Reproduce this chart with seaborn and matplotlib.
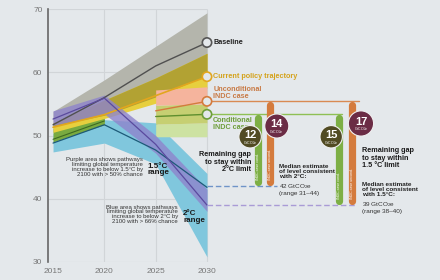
import matplotlib
matplotlib.use('Agg')
import matplotlib.pyplot as plt
from matplotlib import font_manager as fm
import seaborn as sns

# ================= DATOS =================
years = [2015, 2020, 2025, 2030]
hist_years = [2015, 2020]
indc_years = [2025, 2030]

baseline = [51.7, 56.0, 61.0, 64.7]
baseline_lo = [51.5, 53.2, 56.1, 59.5]
baseline_hi = [53.8, 58.8, 64.1, 69.4]

policy = [51.3, 53.3, 56.3, 59.3]
policy_lo = [50.5, 52.7, 55.1, 57.5]
policy_hi = [52.0, 55.6, 59.1, 63.0]

uncond = [53.9, 55.4]
uncond_lo = [54.8, 55.0]
uncond_hi = [57.2, 57.7]

cond = [53.0, 53.35]
cond_lo = [49.8, 49.8]
cond_mid = [51.8, 52.0]
cond_hi = [54.8, 55.0]

hist_lo = [49.0, 51.7]
hist_hi = [51.2, 53.3]
hist_line = [49.4, 52.3]

two_deg = [48.8, 51.7, 47.7, 41.8]
two_lo = [47.4, 48.8, 45.5, 30.8]
two_hi = [50.3, 52.5, 52.0, 44.0]

one5_deg = [52.6, 55.9, 48.6, 39.0]
one5_lo = [51.6, 53.4, 47.2, 38.0]
one5_hi = [53.9, 56.4, 50.0, 41.5]

gaps = [12, 14, 15, 17]
target_2c = 42
target_15c = 39

y_ticks = [30, 40, 50, 60, 70]
x_ticks = [2015, 2020, 2025, 2030]

# ================= ESTILO =================
BG = '#e4e8eb'
GRID = '#d1d5d8'
C_GRAY = '#b4b5ac'
C_OLIVE = '#b2a233'
C_YELLOW = '#e7cf3e'
C_SALMON = '#f5b49d'
C_CONDDK = '#c6cf72'
C_CONDLT = '#cde2a2'
C_HIST = '#79aa40'
C_BLUE = '#80c7dd'
C_PURPLE = '#8e84cc'
C_ORANGE = '#d47b3d'
C_GREEN = '#7daf45'
C_MAROON = '#6b2c45'
C_DKOLIVE = '#514b23'

sns.set_style("white")
avail = {f.name for f in fm.fontManager.ttflist}
FONT = 'Liberation Sans Narrow' if 'Liberation Sans Narrow' in avail else 'Liberation Sans'
SC = 1.15 if FONT == 'Liberation Sans Narrow' else 1.0  # factor de tamaño
plt.rcParams['font.family'] = [FONT, 'DejaVu Sans']
plt.rcParams['mathtext.fontset'] = 'custom'
plt.rcParams['mathtext.rm'] = FONT
plt.rcParams['mathtext.it'] = FONT + ':italic'
plt.rcParams['mathtext.bf'] = FONT + ':bold'

fig = plt.figure(figsize=(4.4, 2.8), dpi=100, facecolor=BG)
ax = fig.add_axes([48 / 440, 18 / 280, 1 - 48 / 440, 253 / 280])
ax.set_facecolor(BG)
ax.set_xlim(2014.51, 2052.7)
ax.set_ylim(30, 70)


def px(x, y):
    # posicion en pixeles -> coordenadas de figura
    return x / 440, 1 - y / 280


# rejilla solo en la zona del grafico
ax.hlines(y_ticks, 2014.51, 2030, color=GRID, lw=0.8, zorder=0)
ax.vlines(x_ticks[1:], 30, 70, color=GRID, lw=0.8, zorder=0)

# --- bandas ---
ax.fill_between(years, two_lo, two_hi, color=C_BLUE, lw=0, zorder=1)
ax.fill_between(hist_years, hist_lo, hist_hi, color=C_HIST, lw=0, zorder=2)
ax.fill_between(years, baseline_lo, baseline_hi, color=C_GRAY, lw=0, zorder=2)
ax.fill_between(years, policy_lo, policy_hi, color=C_YELLOW, lw=0, zorder=3)
ov_lo = [max(a, b) for a, b in zip(baseline_lo, policy_lo)]
ov_hi = [min(a, b) for a, b in zip(baseline_hi, policy_hi)]
ax.fill_between(years, ov_lo, ov_hi, color=C_OLIVE, lw=0, zorder=3)
ax.fill_between(indc_years, cond_lo, cond_mid, color=C_CONDLT, lw=0, zorder=4)
ax.fill_between(indc_years, cond_mid, cond_hi, color=C_CONDDK, lw=0, zorder=4)
ax.fill_between(indc_years, uncond_lo, uncond_hi, color=C_SALMON, lw=0, zorder=4)
ax.fill_between(years, one5_lo, one5_hi, color=C_PURPLE, alpha=0.8, lw=0, zorder=5)

# --- lineas ---
sns.lineplot(x=years, y=baseline, ax=ax, color='#505050', lw=1.0, zorder=6)
sns.lineplot(x=years, y=policy, ax=ax, color='#e2a61e', lw=1.2, zorder=6)
sns.lineplot(x=indc_years, y=uncond, ax=ax, color=C_ORANGE, lw=1.0, zorder=6)
sns.lineplot(x=indc_years, y=cond, ax=ax, color='#5f8f2e', lw=1.0, zorder=6)
sns.lineplot(x=hist_years, y=hist_line, ax=ax, color='#3d6a22', lw=0.8, zorder=6)
sns.lineplot(x=years, y=two_deg, ax=ax, color='#1d5a78', lw=0.9, zorder=6)
sns.lineplot(x=years, y=one5_deg, ax=ax, color='#5a4a9e', lw=0.9, zorder=6)

# lineas horizontales hacia las barras
ax.plot([2030, 2044.8], [uncond[-1]] * 2, color='#d98a52', lw=1.0, zorder=6)
ax.plot([2030, 2043.2], [cond[-1]] * 2, color='#8fc055', lw=1.0, zorder=6)
ax.plot([2030, 2036.8], [target_2c] * 2, color='#6f94c8', lw=1.0, ls=(0, (4, 2)), zorder=6)
ax.plot([2030, 2044.6], [target_15c] * 2, color='#a99bd6', lw=1.0, ls=(0, (4, 2)), zorder=6)

# circulos al final de cada escenario
ends = [baseline[-1], policy[-1], uncond[-1], cond[-1]]
end_cols = ['#555555', '#e2a61e', C_ORANGE, '#6e9e3a']
ax.scatter([2030] * 4, ends, s=45, facecolor=BG, edgecolor=end_cols, lw=1.2, zorder=8)

lab_kw = dict(fontsize=5.2 * SC, fontweight='bold', ha='left', va='center', zorder=9)
ax.text(2030.6, baseline[-1], 'Baseline', color='#222222', **lab_kw)
ax.text(2030.6, policy[-1], 'Current policy trajectory', color='#d4a21a', **lab_kw)
ax.text(2030.6, uncond[-1] + 1.3, 'Unconditional\nINDC case', color='#c87a45',
        linespacing=0.95, **lab_kw)
ax.text(2030.6, cond[-1] - 1.55, 'Conditional\nINDC case', color='#6e9e3a',
        linespacing=0.95, **lab_kw)

# --- barras de brecha ---
bar_x = [2035.0, 2036.1, 2042.9, 2044.1]
bar_top = [cond[-1], uncond[-1], cond[-1], uncond[-1]]
bar_bot = [target_2c, target_2c, target_15c, target_15c]
bar_col = [C_GREEN, C_ORANGE, C_GREEN, C_ORANGE]
bar_txt = ['INDC case cond.', 'INDC case uncond.'] * 2
for x, t, b, c, s in zip(bar_x, bar_top, bar_bot, bar_col, bar_txt):
    ax.plot([x, x], [b + 0.6, t - 0.6], color=c, lw=5.2, solid_capstyle='round', zorder=7)
    ax.text(x, b + 1.0, s, rotation=90, color='white', fontsize=2.6 * SC,
            ha='center', va='bottom', zorder=8)

circ_x = [2034.2, 2036.8, 2042.1, 2045.0]
circ_y = [49.8, 51.5, 49.8, 51.9]
circ_col = [C_DKOLIVE, C_MAROON, C_DKOLIVE, C_MAROON]
circ_s = [260, 300, 260, 330]
ax.scatter(circ_x, circ_y, s=circ_s, c=circ_col, edgecolor='#f0f0f0', lw=0.8, zorder=9)
for x, y, g in zip(circ_x, circ_y, gaps):
    ax.text(x, y + 0.25, str(g), color='white', fontsize=8 * SC, fontweight='bold',
            ha='center', va='center', zorder=10)
    ax.text(x, y - 0.95, r'GtCO$_2$e', color='white', fontsize=2.6 * SC,
            ha='center', va='center', zorder=10)

# --- ejes ---
for s in ['top', 'right', 'bottom']:
    ax.spines[s].set_visible(False)
ax.spines['left'].set_color('#666666')
ax.spines['left'].set_linewidth(1.2)
ax.set_yticks(y_ticks)
ax.set_xticks(x_ticks)
ax.tick_params(axis='y', length=3, width=0.8, color='#666666', pad=1,
               labelsize=6 * SC, labelcolor='#777777')
ax.tick_params(axis='x', length=0, pad=4, labelsize=6 * SC, labelcolor='#777777')

# --- anotaciones ---
small = dict(fontsize=4.3 * SC, color='#333333', linespacing=0.95)
fig.text(*px(143, 157.5), 'Purple area shows pathways\nlimiting global temperature\n'
         'increase to below 1.5°C by\n2100 with > 50% chance', ha='right', va='top', **small)
fig.text(*px(178, 204.5), 'Blue area shows pathways\nlimiting global temperature\n'
         'increase to below 2°C by\n2100 with > 66% chance', ha='right', va='top', **small)
big = dict(fontsize=5.8 * SC, fontweight='bold', color='#1a1a1a', linespacing=0.95,
           va='center')
fig.text(*px(147.5, 169.5), '1.5°C\nrange', ha='left', **big)
fig.text(*px(183, 217), '2°C\nrange', ha='left', **big)

gap_kw = dict(fontsize=5.2 * SC, fontweight='bold', color='#1a1a1a', linespacing=1.05,
              va='top')
fig.text(*px(251, 151.5), 'Remaining gap\nto stay within\n2°C limit', ha='right', **gap_kw)
fig.text(*px(361.5, 147.5), 'Remaining gap\nto stay within\n1.5 °C limit', ha='left', **gap_kw)

med_b = dict(fontsize=4.6 * SC, fontweight='bold', color='#222222', linespacing=0.95,
             ha='left', va='top')
med_r = dict(fontsize=4.6 * SC, color='#333333', linespacing=0.95, ha='left', va='top')
fig.text(*px(279, 164.5), 'Median estimate\nof level consistent\nwith 2°C:', **med_b)
fig.text(*px(279, 182.5), '%d GtCO$_2$e\n(range 31–44)' % target_2c, **med_r)
fig.text(*px(362, 182), 'Median estimate\nof level consistent\nwith 1.5°C:', **med_b)
fig.text(*px(362, 200), '%d GtCO$_2$e\n(range 38–40)' % target_15c, **med_r)

fig.savefig('out.png', dpi=100, facecolor=BG)
